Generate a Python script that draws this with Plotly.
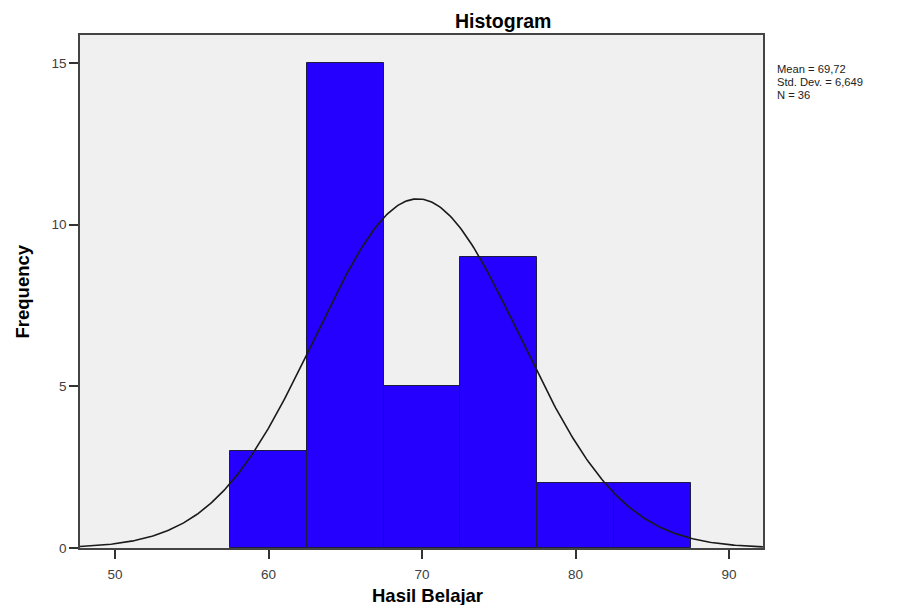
import numpy as np
import plotly.graph_objects as go

# Data
bin_starts = [57.5, 62.5, 67.5, 72.5, 77.5, 82.5]
bin_width = 5
frequencies = [3, 15, 5, 9, 2, 2]
mean_val = 69.72
std_val = 6.649
n_val = 36
x_ticks = [50, 60, 70, 80, 90]
y_ticks = [0, 5, 10, 15]
stats_lines = ["Mean = 69,72", "Std. Dev. = 6,649", "N = 36"]

centers = [s + bin_width / 2 for s in bin_starts]

# Fitted normal curve (from stated mean, SD, N)
xs = np.linspace(47.72, 92.2, 400)
ys = n_val * bin_width / (std_val * np.sqrt(2 * np.pi)) * np.exp(-0.5 * ((xs - mean_val) / std_val) ** 2)

FONT = "Liberation Sans, Arial, sans-serif"

fig = go.Figure()
fig.add_trace(go.Bar(
    x=centers, y=frequencies, width=[bin_width] * len(centers),
    marker=dict(color="#2600ff", line=dict(color="#1c1c3c", width=1)),
    hoverinfo="x+y", showlegend=False,
))
fig.add_trace(go.Scatter(
    x=xs, y=ys, mode="lines", line=dict(color="#1a1a1a", width=1.6),
    hoverinfo="skip", showlegend=False,
))

axis_common = dict(
    showgrid=False, zeroline=False, showline=True, linecolor="#444444", linewidth=1.5,
    mirror=True, ticks="outside", ticklen=9, tickcolor="#333333", tickwidth=1.5,
    tickfont=dict(family=FONT, size=13.5, color="#404040"),
)

# page body has an 8px margin, so the figure is offset by 8px in the window
annotations = [
    dict(text="<b>Histogram</b>", xref="paper", yref="paper", x=(503 - 80) / 683, y=1,
         yshift=14, xanchor="center", yanchor="middle", showarrow=False,
         font=dict(family=FONT, size=19.5, color="#000")),
    dict(text="<b>Hasil Belajar</b>", xref="paper", yref="paper", x=(427.5 - 80) / 683, y=0,
         yshift=-47, xanchor="center", yanchor="middle", showarrow=False,
         font=dict(family=FONT, size=18.5, color="#000")),
    dict(text="<b>Frequency</b>", xref="paper", yref="paper", x=0, y=0.5,
         xshift=-58, xanchor="center", yanchor="middle", textangle=-90, showarrow=False,
         font=dict(family=FONT, size=18.5, color="#000")),
]
for i, line in enumerate(stats_lines):
    annotations.append(dict(
        text=line, xref="paper", yref="paper", x=1, y=1, xshift=12, yshift=-34 - 13 * i,
        xanchor="left", yanchor="middle", align="left", showarrow=False,
        font=dict(family=FONT, size=11.2, color="#222"),
    ))

fig.update_layout(
    width=906, height=597,
    margin=dict(l=72, r=151, t=27, b=57),
    paper_bgcolor="white", plot_bgcolor="#f0f0f0",
    bargap=0,
    xaxis=dict(range=[47.72, 92.21], tickvals=x_ticks, ticklabelstandoff=4, **axis_common),
    yaxis=dict(range=[0, 15.87], tickvals=y_ticks, **axis_common),
    annotations=annotations,
)

fig.write_html("out.html")
